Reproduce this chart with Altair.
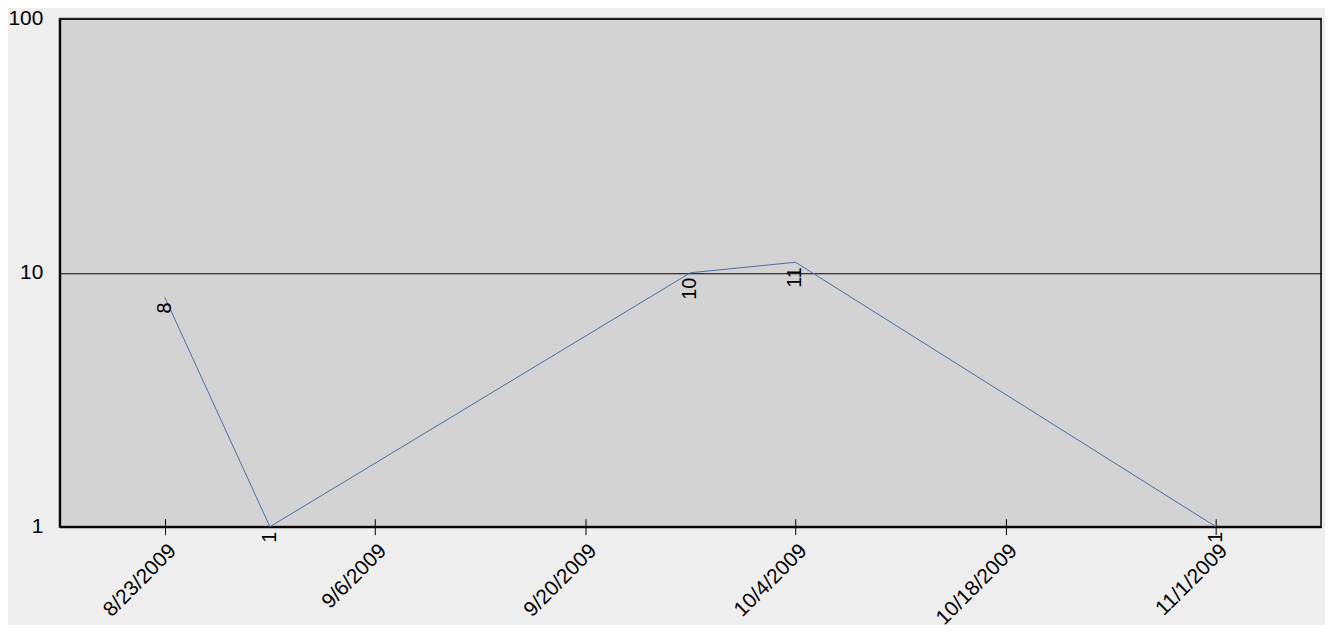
import altair as alt
import pandas as pd

dates = ["2009-08-23", "2009-08-30", "2009-09-27", "2009-10-04", "2009-11-01"]
values = [8, 1, 10, 11, 1]
tick_dates = ["2009-08-23", "2009-09-06", "2009-09-20", "2009-10-04", "2009-10-18", "2009-11-01"]
y_ticks = [1, 10, 100]

df = pd.DataFrame({"date": pd.to_datetime(dates), "value": values})

def dt(s):
    y, m, d = [int(p) for p in s.split("-")]
    return alt.DateTime(year=y, month=m, date=d)

xscale = alt.Scale(domain=[dt("2009-08-16"), dt("2009-11-08")])
yscale = alt.Scale(type="log", domain=[1, 100])

x_bottom = alt.X("date:T", scale=xscale, axis=alt.Axis(
    values=[dt(s) for s in tick_dates], format="%-m/%-d/%Y", formatType="time",
    labelAngle=-45, labelAlign="right", labelBaseline="top", labelFontSize=21,
    labelColor="black", labelFont="Arial", labelPadding=5, tickSize=8,
    tickColor="black", tickWidth=1, domainColor="black", domainWidth=2,
    grid=False, title=None, labelOverlap=False))
x_top = alt.X("date:T", scale=xscale, axis=alt.Axis(
    orient="top", offset=-511, values=[dt(s) for s in tick_dates], labels=False,
    tickSize=8, tickColor="black", tickWidth=1, domain=False, grid=False, title=None))
y_enc = alt.Y("value:Q", scale=yscale, axis=alt.Axis(
    values=y_ticks, format="d", labelFontSize=21, labelColor="black", labelFont="Arial",
    ticks=False, labelPadding=17, domainColor="black", domainWidth=2,
    grid=True, gridColor="black", gridWidth=1, title=None))

line = alt.Chart(df).mark_line(color="#4a6fa5", strokeWidth=1).encode(x=x_bottom, y=y_enc)
labels = alt.Chart(df).mark_text(angle=270, align="right", baseline="middle", dx=-5,
                                 fontSize=20, font="Arial", color="black").encode(
    x=x_top, y=y_enc, text="value:Q")

chart = alt.layer(line, labels).resolve_axis(x="independent").properties(
    width=1269, height=511,
    title=alt.TitleParams("Public Health - Graduate", font="Arial", fontSize=20,
                          fontStyle="italic", fontWeight="bold", color="#5b7fb5",
                          anchor="middle", frame="group", dx=-68, offset=10,
                          baseline="alphabetic"),
    padding={"left": 52, "top": 9, "right": 4, "bottom": 97},
    autosize=alt.AutoSizeParams(type="none"),
    background="#eeeeee",
).configure_view(fill="#d3d3d3", stroke="#333333", strokeWidth=2)

chart.save("out.html", embed_options={"renderer": "svg", "actions": False})
